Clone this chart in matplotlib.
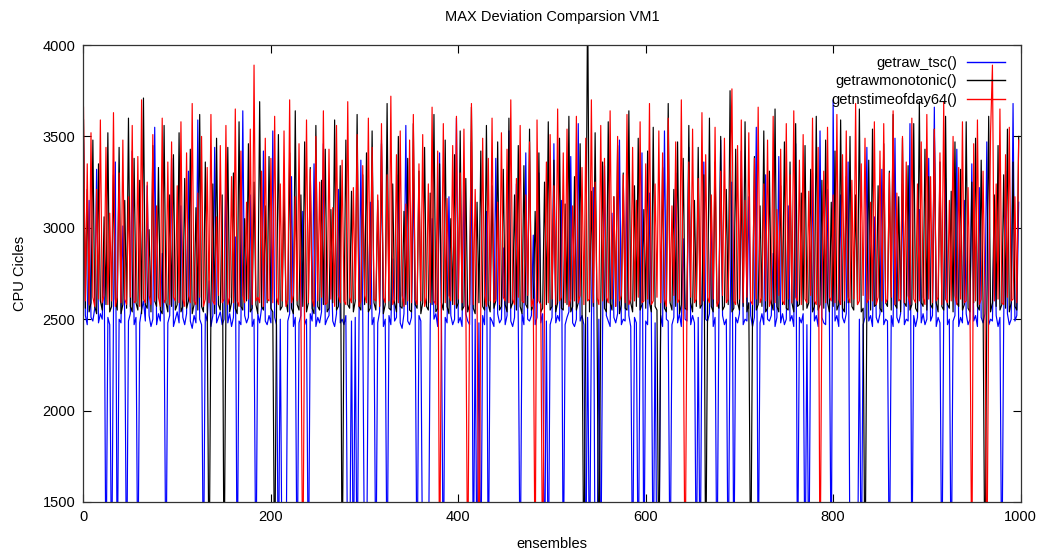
import numpy as np
import matplotlib.pyplot as plt

plt.rcParams['font.family'] = ['Liberation Sans', 'DejaVu Sans']

# every second ensemble (values below 1500 run off the axis)
ensembles = np.arange(0, 1000, 2)

tsc = [
    3480, 2520, 2470, 3150, 2510, 2490, 2560, 3320, 2480, 2530, 2500, 2890, 1000, 2510, 2470, 1000, 2540, 3360, 1000, 2500, 2480, 3010, 2520, 1000, 2490,
    2530, 3420, 2470, 2510, 1000, 2480, 2550, 2600, 2490, 3230, 2520, 2460, 2500, 3550, 2470, 2530, 2490, 2860, 2510, 1000, 2480, 2520, 3380, 2460, 2500,
    2540, 2480, 3120, 2510, 2470, 2530, 3310, 2490, 2450, 2520, 2480, 3590, 2500, 2470, 1000, 2530, 2490, 2710, 2460, 2520, 3440, 2480, 2510, 2540, 2470,
    2500, 3260, 2480, 2530, 2460, 2510, 2950, 1000, 2490, 2470, 3640, 2520, 2480, 2510, 3180, 2460, 2500, 1000, 2530, 2480, 2560, 3420, 2490, 2470, 2520,
    2480, 3530, 2510, 2470, 1000, 2500, 1000, 1000, 1000, 2490, 2530, 3280, 2460, 2510, 1000, 2480, 2520, 3090, 2470, 2500, 1000, 2530, 2490, 3350, 2460,
    2510, 2480, 2540, 3460, 2470, 2500, 2520, 2870, 2490, 2460, 2530, 3210, 2480, 2500, 2470, 2520, 1000, 1000, 2490, 1000, 2510, 1000, 2480, 3370, 2530,
    1000, 1000, 2490, 3140, 2470, 2510, 1000, 2480, 2540, 3480, 2460, 2500, 1000, 2520, 2470, 2830, 2490, 2510, 3290, 2480, 2450, 2530, 3560, 2490, 2470,
    2510, 3320, 2480, 1000, 2520, 2490, 1000, 1000, 1000, 1000, 2470, 3050, 2500, 2530, 2460, 3410, 2490, 1000, 2510, 2480, 3170, 2520, 2470, 2500, 3600,
    2480, 2510, 2460, 3250, 2530, 2490, 2470, 3470, 1000, 2500, 1000, 2480, 1000, 2520, 2470, 3090, 1000, 2510, 2490, 2460, 3380, 2530, 2480, 2500, 2890,
    2470, 2520, 3530, 2490, 2460, 2510, 3240, 2480, 1000, 2530, 2470, 3410, 2500, 2490, 2520, 2960, 2470, 2510, 3300, 2480, 2530, 1000, 2490, 1000, 2470,
    2510, 3460, 2480, 2520, 2490, 3150, 1000, 2470, 2510, 2540, 3390, 2480, 2460, 2500, 3570, 2490, 2520, 2470, 1000, 2510, 1000, 2480, 3220, 1000, 1000,
    2500, 1000, 2470, 3340, 2520, 2490, 2460, 3080, 2510, 2480, 2530, 3480, 2470, 2500, 2490, 3260, 2520, 2460, 1000, 2510, 2480, 1000, 2530, 3410, 1000,
    2490, 2470, 3190, 2510, 1000, 2480, 1000, 1000, 2520, 2460, 3530, 2500, 2490, 1000, 2470, 2510, 3300, 2480, 2530, 2460, 2940, 2500, 2490, 3440, 2470,
    2520, 2480, 1000, 2510, 1000, 2470, 3360, 2500, 2490, 2530, 3110, 2460, 2510, 1000, 2480, 3480, 2520, 2470, 2500, 1000, 2490, 3250, 1000, 2510, 2480,
    2530, 3420, 2470, 2500, 2490, 3170, 2520, 2460, 2510, 3550, 1000, 2480, 2530, 2470, 3290, 2500, 2490, 2520, 2860, 2460, 2510, 3390, 2480, 2530, 2470,
    2500, 3120, 2490, 2520, 2460, 3460, 1000, 2510, 2480, 2530, 1000, 2470, 1000, 2500, 3300, 2490, 2520, 2460, 3530, 2510, 2480, 2470, 3210, 2530, 1000,
    3700, 2490, 2520, 2460, 3180, 2510, 2480, 2530, 3360, 1000, 1000, 1000, 1000, 1000, 2500, 1000, 2470, 2510, 3440, 2490, 2520, 2460, 3060, 2510, 2480,
    2530, 3320, 2470, 2500, 2490, 1000, 2520, 2460, 3490, 2510, 2480, 2530, 3240, 2470, 2500, 2490, 3570, 1000, 2520, 2460, 2510, 3100, 2480, 2530, 2470,
    2500, 3380, 2490, 2520, 3660, 2460, 2510, 2480, 1000, 2530, 3270, 2470, 2500, 1000, 2490, 2520, 3430, 2460, 2510, 2480, 3150, 2530, 2470, 2500, 3350,
    2490, 2520, 2460, 3220, 2510, 2480, 2530, 3470, 2470, 2500, 2490, 3060, 2520, 2460, 2510, 1000, 2480, 3310, 2530, 2470, 2500, 3680, 2490, 2520, 3140,
]

monotonic = [
    3590, 2560, 3210, 2540, 2590, 3480, 2570, 2530, 3350, 2600, 2550, 3060, 2580, 3520, 2540, 2570, 3290, 2610, 2550, 3440, 2530, 2580, 3150, 2560, 3600,
    2570, 2540, 3380, 2590, 2550, 3260, 2530, 3710, 2580, 2560, 2990, 2540, 3450, 2600, 2570, 3330, 2550, 2530, 3560, 2590, 2540, 3180, 2570, 3400, 2550,
    2580, 3520, 2540, 2570, 3270, 2560, 2600, 3430, 2530, 2580, 3110, 2550, 3620, 2570, 2540, 3360, 2590, 1000, 2560, 3240, 2530, 3490, 2580, 2550, 3180,
    1000, 2570, 3440, 2540, 2590, 3300, 2560, 2530, 3580, 2570, 2550, 3050, 2600, 3460, 2540, 2560, 3250, 2580, 2530, 3690, 2570, 2550, 3120, 2590, 3390,
    2560, 2540, 1000, 2580, 3510, 2550, 2570, 3220, 2600, 2540, 3410, 2560, 2530, 3640, 2580, 2550, 3180, 2570, 3470, 2540, 2590, 3330, 2560, 2530, 3560,
    2570, 2550, 3260, 2580, 3430, 2540, 2560, 3100, 2590, 3590, 2550, 2570, 3340, 1000, 2530, 3480, 2580, 2560, 3200, 2540, 2600, 3620, 2570, 2550, 3290,
    2580, 3410, 2540, 2560, 3530, 2590, 2550, 3150, 2570, 3460, 2530, 2580, 3680, 2560, 2550, 3240, 2590, 2540, 3500, 2570, 2560, 3090, 2580, 3380, 2550,
    2540, 3570, 2580, 2560, 3310, 2530, 2590, 3440, 2570, 2550, 3190, 2580, 3620, 2540, 2560, 3350, 2590, 2550, 3480, 2570, 2530, 3050, 2580, 3400, 2560,
    2590, 3530, 2550, 2570, 3270, 2540, 2580, 3660, 2560, 2530, 3140, 2590, 3420, 2570, 2550, 3560, 2580, 2540, 3230, 2560, 2600, 3470, 2550, 2570, 3320,
    2580, 2540, 3600, 2560, 2590, 3180, 2550, 3450, 2570, 2530, 3340, 2580, 2560, 3540, 2550, 2570, 3090, 2590, 3410, 2540, 2560, 3250, 2580, 3580, 2550,
    2570, 3370, 2540, 2590, 3490, 2560, 2550, 3130, 2580, 3610, 2540, 2570, 3280, 2550, 2590, 3460, 2560, 1000, 2580, 4300, 2540, 3200, 2570, 3520, 2550,
    1000, 2580, 3360, 2560, 2540, 3580, 2590, 2550, 3170, 2570, 3450, 2530, 2580, 3300, 2560, 2550, 3640, 2590, 2540, 3230, 2570, 3490, 2550, 2580, 3100,
    2560, 3420, 2590, 2540, 3550, 2570, 2550, 1000, 2580, 3330, 2560, 2540, 3680, 2590, 2550, 3210, 2570, 3470, 2530, 2580, 3380, 2560, 2550, 3560, 2590,
    2540, 3150, 2570, 3440, 2560, 2580, 3290, 1000, 2550, 3600, 2570, 2540, 3360, 2590, 2560, 3500, 2550, 2570, 3210, 2580, 3750, 2540, 2560, 3430, 2590,
    2550, 3270, 2570, 3580, 2540, 2590, 1000, 2560, 3390, 2550, 2580, 3120, 2570, 3530, 2540, 2560, 3310, 2590, 2550, 3650, 2570, 2540, 3230, 2580, 3470,
    2560, 2550, 3360, 2590, 2540, 3570, 2570, 2580, 3190, 2550, 3450, 2560, 2590, 3320, 2540, 2570, 3610, 2550, 2580, 3260, 2560, 3480, 2590, 2540, 3140,
    2570, 3420, 2550, 2580, 3590, 2560, 2540, 3280, 2590, 3500, 2570, 2550, 3180, 2580, 3650, 2540, 2560, 1000, 2590, 3370, 2550, 3540, 2570, 2580, 3230,
    2560, 2540, 3460, 2590, 2570, 3310, 2550, 3620, 2580, 2560, 3170, 2540, 3490, 2590, 2570, 3340, 2550, 2580, 3570, 2560, 2540, 3690, 2590, 2570, 3430,
    2550, 3280, 2580, 2560, 3540, 2590, 2540, 3360, 2570, 2550, 3610, 2580, 2560, 3200, 2540, 3470, 2590, 2570, 3320, 2550, 2580, 3580, 2560, 2540, 3250,
    2590, 3490, 2570, 2550, 3370, 2580, 1000, 2560, 3610, 2540, 2590, 3180, 2570, 3450, 2550, 2580, 3290, 2560, 3540, 2540, 2590, 3360, 2570, 2550, 3500,
]

timeofday = [
    3660, 2600, 3350, 2580, 3520, 2620, 2570, 3210, 2610, 3590, 2590, 2630, 3440, 2580, 3080, 2600, 3630, 2570, 2620, 3300, 2590, 3480, 2610, 2580, 3170,
    2620, 3560, 2590, 2600, 3390, 2570, 3700, 2610, 2590, 3250, 2630, 2580, 3510, 2600, 3120, 2620, 2570, 3600, 2590, 2610, 3360, 2580, 3470, 2620, 2600,
    3230, 2590, 3580, 2610, 2570, 3410, 2630, 2590, 3680, 2600, 2580, 3190, 2620, 3500, 2570, 2610, 3330, 2590, 3620, 2600, 2580, 3060, 2630, 3450, 2590,
    2610, 3560, 2580, 2620, 3280, 2590, 3650, 2600, 2570, 3420, 2630, 2590, 3140, 2610, 3540, 2580, 3890, 2600, 2620, 2590, 3310, 2570, 3490, 2610, 2600,
    3380, 2590, 3610, 2620, 2580, 3240, 2600, 3530, 2570, 2610, 3700, 2590, 2630, 3170, 2600, 3460, 2580, 1000, 2620, 3590, 2590, 3320, 2610, 2570, 3500,
    2600, 3250, 2620, 3640, 2580, 2590, 3430, 2610, 3110, 2570, 3560, 2630, 2590, 3370, 2600, 2580, 3690, 2620, 2590, 3220, 2610, 3510, 2570, 2600, 3340,
    2630, 2590, 3600, 2580, 3440, 2610, 2600, 3180, 2570, 3570, 2620, 2590, 3290, 2600, 3720, 2580, 2610, 3400, 2590, 3530, 2630, 2570, 3130, 2600, 3480,
    2590, 3620, 2610, 2580, 3350, 2600, 3510, 2570, 2620, 3240, 2590, 3660, 2600, 2580, 3420, 1000, 2610, 3570, 2590, 3160, 2630, 2600, 3450, 2580, 3610,
    2610, 3300, 2590, 3540, 2620, 1000, 2600, 3680, 2580, 3210, 2610, 1000, 2590, 3490, 2630, 2570, 3380, 2600, 3600, 2590, 2610, 3140, 2580, 3520, 2620,
    2600, 3430, 2590, 3700, 2610, 2580, 3270, 2620, 3560, 2600, 2590, 3180, 2630, 3470, 2570, 2610, 1000, 3590, 2600, 2580, 1000, 2620, 3360, 2590, 3510,
    2610, 3230, 2580, 3650, 2600, 2620, 3410, 2590, 3540, 2570, 2610, 3120, 2600, 3610, 2590, 2630, 3330, 2580, 3490, 2600, 2610, 3700, 2590, 3250, 2620,
    2580, 3560, 2600, 3380, 2620, 2590, 3640, 2610, 3170, 2570, 3500, 2600, 2630, 3290, 2590, 3620, 2580, 2610, 3440, 2600, 3150, 2620, 3580, 2590, 2600,
    3350, 2610, 3680, 2580, 2600, 3240, 2620, 3530, 2590, 3410, 2610, 2570, 3600, 2600, 3120, 2630, 3470, 2590, 2610, 3700, 2580, 1000, 2600, 3360, 2620,
    3540, 2590, 2610, 3270, 2580, 3630, 2600, 3400, 2620, 2590, 3180, 2610, 3550, 2570, 2600, 3310, 2630, 3490, 2590, 2610, 3220, 3760, 2600, 2580, 3450,
    2610, 3590, 2590, 3150, 2620, 3520, 2600, 2580, 3380, 2610, 3660, 2590, 2620, 3240, 2600, 3480, 2570, 2610, 3610, 2590, 3100, 2630, 3430, 2600, 2580,
    3570, 2610, 3290, 2590, 3640, 2620, 2600, 3370, 2580, 3510, 2610, 2590, 3200, 2630, 3600, 2600, 2580, 3440, 1000, 2610, 3310, 2590, 3550, 2620, 2600,
    3180, 2590, 3620, 2610, 2580, 3400, 2600, 3530, 2620, 2590, 3260, 2610, 3680, 2580, 2600, 3350, 2630, 3490, 2590, 2610, 3140, 2600, 3580, 2580, 2620,
    3420, 2600, 3570, 2590, 2610, 3300, 2620, 3640, 2580, 3190, 2600, 2610, 3500, 2590, 3360, 2630, 2580, 3600, 2610, 2590, 3240, 2600, 3470, 2620, 2580,
    3620, 2610, 3280, 2590, 3540, 2600, 2620, 3410, 2580, 3690, 2610, 2590, 3150, 2600, 3500, 2630, 2580, 3330, 2610, 3580, 2590, 2600, 3220, 2620, 1000,
    3460, 2600, 3590, 2580, 2610, 3310, 2620, 1000, 2590, 3520, 3890, 2600, 3240, 2610, 3650, 2590, 2580, 3400, 2620, 3550, 2600, 2610, 3170, 2590, 3480,
]

colors = ['#0000ff', '#000000', '#ff0000']
labels = ['getraw_tsc()', 'getrawmonotonic()', 'getnstimeofday64()']

fig = plt.figure(figsize=(10.45, 5.55), dpi=100)
ax = fig.add_axes([0.0799, 0.0955, 0.8967, 0.8234])

for vals, c, lab in zip([tsc, monotonic, timeofday], colors, labels):
    ax.plot(ensembles, vals, color=c, lw=0.85, label=lab)

ax.set_xlim(0, 1000)
ax.set_ylim(1500, 4000)
ax.set_xticks(range(0, 1001, 200))
ax.set_yticks(range(1500, 4001, 500))
ax.set_axisbelow(True)
ax.tick_params(direction='in', length=6, width=0.8, top=True, right=True,
               labelsize=10.5, pad=6)
for s in ax.spines.values():
    s.set_linewidth(0.9)
    s.set_color('#333333')

ax.set_title('MAX Deviation Comparsion VM1', fontsize=10.5, pad=17)
ax.set_xlabel('ensembles', fontsize=10.5, labelpad=9)
ax.set_ylabel('CPU Cicles', fontsize=10.5, labelpad=11)

leg = ax.legend(loc='upper right', bbox_to_anchor=(0.9835, 0.976), frameon=False,
                markerfirst=False, fontsize=10.5, handlelength=2.6, handletextpad=0.7,
                labelspacing=0.3, borderpad=0, borderaxespad=0)
for h, c in zip(leg.get_lines(), colors):
    h.set_color(c)
    h.set_linewidth(1.0)

fig.savefig('out.png', dpi=100)
